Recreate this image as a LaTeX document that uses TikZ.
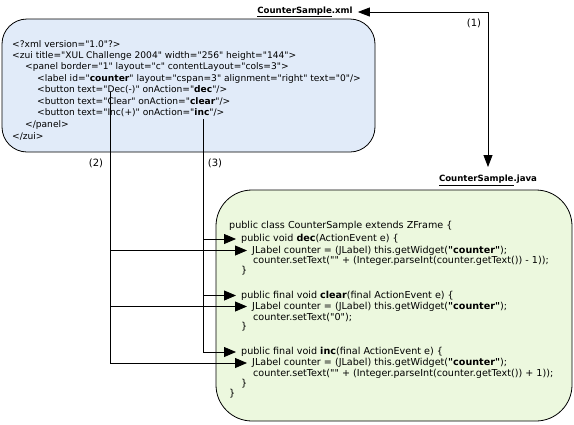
\documentclass[tikz,border=0pt]{standalone}
\usepackage{fontspec}
\newfontfamily\codefont{DejaVu Sans}
\usetikzlibrary{arrows.meta}
\definecolor{xmlfill}{RGB}{225,235,249}
\definecolor{javafill}{RGB}{236,248,222}
\tikzset{
  code/.style={font=\codefont\fontsize{9.1}{11}\selectfont, anchor=west, inner ysep=0pt, inner xsep=0pt},
  jcode/.style={code, font=\codefont\fontsize{9.6}{11}\selectfont, inner xsep=5pt},
  title/.style={font=\codefont\fontsize{8.6}{10}\selectfont\bfseries, inner xsep=5pt, inner ysep=4pt},
  num/.style={font=\codefont\fontsize{10}{12}\selectfont, inner sep=0pt},
  filebox/.style={draw=black, line width=0.8pt},
  link/.style={draw=black, line width=0.8pt},
  tip/.style={-{Triangle[length=12pt,width=10pt]}},
  tips/.style={{Triangle[length=12pt,width=9pt]}-{Triangle[length=12pt,width=9pt]}},
}
\begin{document}
\begin{tikzpicture}[x=1pt,y=-1pt]
\useasboundingbox (0,0) rectangle (574,424);
% boxes
\draw[filebox, fill=xmlfill, rounded corners=25pt] (2,19) rectangle (375,152);
\draw[filebox, fill=javafill, rounded corners=36pt] (216,190) rectangle (572,421);
% titles
\node[title] (xmltitle) at (305,12) {\underline{CounterSample}.xml};
\node[title, anchor=north, inner ysep=8pt] (javatitle) at (488,167) {\underline{CounterSample}.java};
% xml code
\node[code] (x1) at (12,44) {<?xml version="1.0"?>};
\node[code] (x2) at (12,55.5) {<zui title="XUL Challenge 2004" width="256" height="144">};
\node[code] (x3) at (25,67) {<panel border="1" layout="c" contentLayout="cols=3">};
\node[code] (x4) at (37,78.5) {<label id="\textbf{counter}" layout="cspan=3" alignment="right" text="0"/>};
\node[code] (x5) at (37,90) {<button text="Dec(-)" onAction="\textbf{dec}"/>};
\node[code] (x6) at (37,101.5) {<button text="Clear" onAction="\textbf{clear}"/>};
\node[code] (x7) at (37,113) {<button text="Inc(+)" onAction="\textbf{inc}"/>};
\node[code] (x8) at (25,124.5) {</panel>};
\node[code] (x9) at (12,136) {</zui>};
% java code
\node[jcode] (j0) at (224,226) {public class CounterSample extends ZFrame \{};
\node[jcode] (jdec) at (236,239) {public void \textbf{dec}(ActionEvent e) \{};
\node[jcode] (jl1) at (247,250.5) {JLabel counter = (JLabel) this.getWidget(\textbf{"counter"});};
\node[jcode] (js1) at (248,261) {counter.setText("" + (Integer.parseInt(counter.getText()) - 1));};
\node[jcode] (jb1) at (236,271) {\}};
\node[jcode] (jclear) at (236,295.5) {public final void \textbf{clear}(final ActionEvent e) \{};
\node[jcode] (jl2) at (247,306.5) {JLabel counter = (JLabel) this.getWidget(\textbf{"counter"});};
\node[jcode] (js2) at (248,317) {counter.setText("0");};
\node[jcode] (jb2) at (236,327) {\}};
\node[jcode] (jinc) at (236,352) {public final void \textbf{inc}(final ActionEvent e) \{};
\node[jcode] (jl3) at (247,363) {JLabel counter = (JLabel) this.getWidget(\textbf{"counter"});};
\node[jcode] (js3) at (248,373.5) {counter.setText("" + (Integer.parseInt(counter.getText()) + 1));};
\node[jcode] (jb3) at (236,383.5) {\}};
\node[jcode] (jend) at (224,394) {\}};
% connector (1)
\draw[link, tips] (xmltitle.east) -| (javatitle.north);
\node[num] (n1) at (474,23) {(1)};
% connector (2): Dec(-) -> JLabel lines
\coordinate (decsrc) at (110,92);
\draw[link, tip] (decsrc) |- (jl1.west);
\draw[link, tip] (decsrc) |- (jl2.west);
\draw[link, tip] (decsrc) |- (jl3.west);
\node[num] (n2) at (96,163) {(2)};
% connector (3): inc -> method lines
\coordinate (incsrc) at (203,119);
\draw[link, tip] (incsrc) |- (jdec.west);
\draw[link, tip] (incsrc) |- (jclear.west);
\draw[link, tip] (incsrc) |- (jinc.west);
\node[num] (n3) at (215,163) {(3)};
\end{tikzpicture}
\end{document}
